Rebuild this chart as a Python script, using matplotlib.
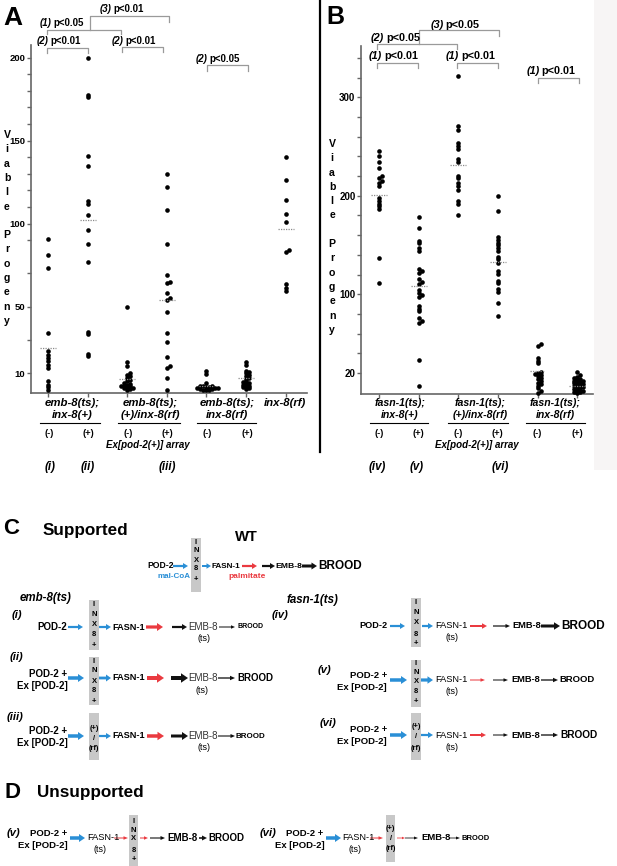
import numpy as np
import matplotlib
matplotlib.use('Agg')
import matplotlib.pyplot as plt
from matplotlib.patches import Rectangle, FancyArrow

plt.rcParams['font.family'] = ['Liberation Sans', 'DejaVu Sans']

# ---------------- data: panel A (emb-8(ts) series) ----------------
a_values = [
    [91, 81, 73, 34, 23, 21, 19, 17, 15, 13, 5, 3, 1.5, 0],
    [200, 177.5, 176, 140.5, 134.5, 113.5, 112, 105.5, 96, 87.5, 77, 35, 33.5, 21.5, 20],
    [50, 16.5, 14, 10, 9, 8, 7, 6, 5, 4, 3.5, 3, 2.5, 2, 2, 1.5, 1, 1, 0.5, 0],
    [130, 122, 108, 88, 69, 65, 64, 58, 55, 54, 47, 34, 29, 19.5, 14, 13, 7, 0],
    [11, 9.5, 4, 2.5, 2, 2, 1.5, 1.5, 1, 1, 1, 0.5, 0.5, 0, 0, 0],
    [16.5, 15, 11.5, 10.5, 10, 9, 8, 7, 6.5, 5, 4.5, 4, 3.5, 3, 2.5, 2, 1.5, 1, 0.5],
    [140, 126.5, 114, 106, 101, 84, 83, 63.5, 61.5, 59.5],
]
a_means = [25, 102, 6.6, 54, 2.2, 6.8, 96.7]
a_yticks = [10, 50, 100, 150, 200]
a_minor = [30, 70, 90, 110, 120, 130, 140, 160, 170, 180, 190]
a_groups = [('emb-8(ts);', 'inx-8(+)'), ('emb-8(ts);', '(+)/inx-8(rf)'), ('emb-8(ts);', 'inx-8(rf)')]
a_last = 'inx-8(rf)'
a_roman = ['(i)', '(ii)', '(iii)']

# ---------------- data: panel B (fasn-1(ts) series) ----------------
b_values = [
    [245, 240, 234, 228, 220, 218, 215, 213, 210, 198, 195, 192, 189.5, 186.5, 136.5, 111],
    [178, 167.5, 154, 151.5, 146.5, 144, 126, 124, 122, 115, 112.5, 110.5, 104, 101.5, 99, 97,
     88, 85.5, 83, 75.5, 73, 71, 33, 7],
    [322, 271, 267, 253.5, 250.5, 247.5, 237.5, 234.5, 220.5, 217.5, 213, 209.5, 206, 195, 191.5, 180.5],
    [200, 184, 158, 155, 152.5, 150, 147, 144, 138, 135.5, 132, 124, 121, 113.5, 111, 105, 102.5, 91.5, 78],
    [49.5, 47.5, 35, 32.5, 30, 21.5, 20.5, 19, 18, 17, 15, 14, 12, 10, 8.5, 7, 4.5, 2, 0],
    [21, 18, 16, 15, 14, 13, 12, 11.5, 11, 10, 9.5, 9, 8, 7.5, 7, 6, 5.5, 5, 4, 3, 2.5, 2, 1, 0.5, 0],
]
b_means = [200.7, 108.6, 231.5, 132.7, 22, 6.8]
b_yticks = [20, 100, 200, 300]
b_minor = [40, 60, 80, 120, 140, 160, 180, 220, 240, 260, 280, 320, 340]
b_groups = [('fasn-1(ts);', 'inx-8(+)'), ('fasn-1(ts);', '(+)/inx-8(rf)'), ('fasn-1(ts);', 'inx-8(rf)')]
b_roman = ['(iv)', '(v)', '(vi)']

a_sig = [('(2)', 'p<0.01'), ('(1)', 'p<0.05'), ('(3)', 'p<0.01'), ('(2)', 'p<0.01'), ('(2)', 'p<0.05')]
b_sig = [('(1)', 'p<0.01'), ('(2)', 'p<0.05'), ('(3)', 'p<0.05'), ('(1)', 'p<0.01'), ('(1)', 'p<0.01')]

BLUE = '#2a8fd6'
RED = '#ea3a40'
BLK = '#111111'
GRAYBOX = '#c8c8c8'

W, H = 617, 866
fig = plt.figure(figsize=(W / 100, H / 100), dpi=100)


def ax_px(l, t, r, b):
    return fig.add_axes([l / W, 1 - b / H, (r - l) / W, (b - t) / H])


def swarm_offsets(ax, x0, vals, d=2.3, step=3.0):
    pts = ax.transData.transform(np.column_stack([np.full(len(vals), x0), vals]))
    ypx = pts[:, 1]
    order = np.argsort(ypx)
    placed = []
    offs = np.zeros(len(vals))
    for i in order:
        k = 0
        done = False
        while not done:
            cands = [0.0] if k == 0 else [k * step, -k * step]
            for c in cands:
                if all((c - ox) ** 2 + (ypx[i] - oy) ** 2 >= d * d for ox, oy in placed):
                    offs[i] = c
                    placed.append((c, ypx[i]))
                    done = True
                    break
            k += 1
    pxu = ax.transData.transform((1, 0))[0] - ax.transData.transform((0, 0))[0]
    return offs / pxu


def style_axis(ax, n, ylim, xlim, major, minor, lab_size):
    ax.set_xlim(*xlim)
    ax.set_ylim(*ylim)
    for s in ['top', 'right']:
        ax.spines[s].set_visible(False)
    for s in ['left', 'bottom']:
        ax.spines[s].set_color('#666666')
        ax.spines[s].set_linewidth(1.2)
    ax.set_xticks(range(n))
    ax.set_xticklabels([''] * n)
    ax.set_yticks(major)
    ax.set_yticks(minor, minor=True)
    ax.set_yticklabels([str(v) for v in major], fontsize=lab_size, fontweight='bold')
    ax.tick_params(axis='both', which='both', color='#666666', length=3, width=1, pad=1)
    ax.patch.set_alpha(0)


def draw_points(ax, values, means):
    for i, vals in enumerate(values):
        dx = swarm_offsets(ax, i, vals)
        ax.scatter(i + dx, vals, s=11, color='black', linewidths=0, zorder=3, clip_on=False)
        ax.plot([i - 0.2, i + 0.2], [means[i], means[i]], ls=(0, (1, 1)), color='#8a8a8a', lw=0.9, zorder=4)


axA = ax_px(31, 45, 307, 393)
style_axis(axA, 7, (-2, 207.6), (-0.43, 6.54), a_yticks, a_minor, 6.8)
draw_points(axA, a_values, a_means)

axB = ax_px(361, 45.7, 593, 394)
style_axis(axB, 6, (-1.3, 352.3), (-0.455, 5.4), b_yticks, b_minor, 7.0)
draw_points(axB, b_values, b_means)

ov = fig.add_axes([0, 0, 1, 1])
ov.set_xlim(0, W)
ov.set_ylim(H, 0)
ov.axis('off')
ov.add_patch(Rectangle((594, 0), 23, 470, color='#f7f5f5', lw=0, zorder=0))
ov.plot([320, 320], [0, 452], color='black', lw=1.6)


def txt(x, y, s, size, weight='bold', style='normal', color='black', ha='left', va='center'):
    ov.text(x, y, s, fontsize=size, fontweight=weight, fontstyle=style, color=color,
            ha=ha, va=va)


def arr(x0, x1, y, color, shaft, head, hl):
    ov.add_patch(FancyArrow(x0, y, x1 - x0, 0, width=shaft, head_width=head, head_length=hl,
                            length_includes_head=True, color=color, lw=0))


def box(x0, x1, y0, y1, letters, ys, size=5.5):
    ov.add_patch(Rectangle((x0, y0), x1 - x0, y1 - y0, color=GRAYBOX, lw=0))
    for ch, yy in zip(letters, ys):
        txt((x0 + x1) / 2, yy, ch, size, ha='center')


def bracket(x0, x1, y, y0end, y1end):
    ov.plot([x0, x0, x1, x1], [y0end, y, y, y1end], color='#9a9a9a', lw=0.9)


def siglabel(split, base, lab, size):
    num, p = lab
    ov.text(split - 2.0, base, num, fontsize=size, fontweight='bold', fontstyle='italic',
            ha='right', va='baseline')
    ov.text(split, base, p, fontsize=size, fontweight='bold', ha='left', va='baseline')


# ---- panel letters and y labels ----
txt(3, 18, 'A', 19)
txt(326, 17, 'B', 18)
for k, ch in enumerate('Viable Progeny'):
    if ch != ' ':
        txt(7, 135 + 14.3 * k, ch, 7.6, ha='center')
        txt(332, 144 + 14.3 * k, ch, 7.6, ha='center')

# ---- significance brackets A ----
bracket(47, 88, 47.7, 52.5, 52.5); siglabel(50.5, 43.5, a_sig[0], 7)
bracket(47, 121, 30, 34, 34); siglabel(53.5, 26, a_sig[1], 7)
bracket(90, 169, 16, 30, 21.7); siglabel(113.5, 12.5, a_sig[2], 7)
bracket(122, 163, 47, 52, 52); siglabel(125.5, 43.5, a_sig[3], 7)
bracket(207, 248, 65, 70.5, 70.5); siglabel(209.5, 62, a_sig[4], 7)

# ---- significance brackets B ----
bracket(376.7, 418, 62.7, 67.5, 67.5); siglabel(384, 59, b_sig[0], 7.8)
bracket(376.7, 456.7, 44, 48.5, 48.5); siglabel(386, 41, b_sig[1], 7.8)
bracket(419, 499.3, 30, 44, 35.5); siglabel(445.5, 27.5, b_sig[2], 7.8)
bracket(456.7, 498.3, 62.7, 67.5, 67.5); siglabel(461, 59, b_sig[3], 7.8)
bracket(537.7, 579.3, 77.7, 82.5, 82.5); siglabel(541.5, 73.8, b_sig[4], 7.8)

# ---- x group labels A ----
for (l1, l2), cx, (u0, u1) in zip(a_groups, [72, 150, 227], [(40, 100), (118, 180), (197, 256)]):
    txt(cx, 403, l1, 8.2, style='italic', ha='center')
    txt(cx, 415, l2, 8.2, style='italic', ha='center')
    ov.plot([u0, u1], [422.7, 422.7], color='black', lw=0.8)
txt(285, 403, a_last, 8.2, style='italic', ha='center')
for i in range(6):
    txt(49 + 39.6 * i, 433, '(-)' if i % 2 == 0 else '(+)', 6.8, ha='center')
txt(148, 444.5, 'Ex[pod-2(+)] array', 7, style='italic', ha='center')
for r, cx in zip(a_roman, [50, 88, 167]):
    txt(cx, 467, r, 8.3, style='italic', ha='center')

# ---- x group labels B ----
for (l1, l2), cx, (u0, u1) in zip(b_groups, [400, 480, 555], [(370, 428), (448, 508), (526, 585)]):
    txt(cx, 403, l1, 7.6, style='italic', ha='center')
    txt(cx, 415, l2, 7.6, style='italic', ha='center')
    ov.plot([u0, u1], [422.7, 422.7], color='black', lw=0.8)
for i in range(6):
    txt(379 + 39.6 * i, 433, '(-)' if i % 2 == 0 else '(+)', 6.8, ha='center')
txt(477, 444.5, 'Ex[pod-2(+)] array', 7, style='italic', ha='center')
for r, cx in zip(b_roman, [377, 417, 500]):
    txt(cx, 467, r, 8.3, style='italic', ha='center')

# ================= panel C =================
INX = ['I', 'N', 'X', '8', '+']
RF = ['(+)', '/', '(rf)']
txt(3, 528, 'C', 16)
txt(43, 531, 'Supported', 12.3)
txt(246.5, 537, 'WT', 10.6, ha='center')

# WT
y = 566
txt(147, y, 'POD-2', 6.2)
arr(173, 188, y, BLUE, 2.2, 6, 5)
txt(157, 576.5, 'mal-CoA', 5.8, color=BLUE)
box(191, 201, 538, 592, INX, [542, 551, 560, 569, 580])
arr(202, 211, y, BLUE, 2, 5.5, 4.5)
txt(212, y, 'FASN-1', 5.9)
arr(242, 257, y, RED, 2.2, 6, 5)
txt(228, 576.5, 'palmitate', 6, color=RED)
arr(262, 275, y, BLK, 2.2, 6, 5)
txt(275, y, 'EMB-8', 6.1)
arr(302, 317, y, BLK, 3, 7, 5.5)
txt(318, y, 'BROOD', 8.5)

# emb-8(ts) column
txt(20, 598, 'emb-8(ts)', 8.3, style='italic')
txt(12, 615, '(i)', 8, style='italic')
y = 627
txt(67, y, 'POD-2', 7, ha='right')
arr(68, 83, y, BLUE, 2.2, 6, 5)
box(89, 99, 600, 650, INX, [604, 614, 624, 635, 645])
arr(99, 111, y, BLUE, 2.2, 6, 5)
txt(112, y, 'FASN-1', 6.6)
arr(146, 163, y, RED, 3.2, 8, 6)
arr(172, 187, y, BLK, 2.2, 6, 5)
txt(188, y, 'EMB-8', 7, weight='normal', color='#333333')
txt(204, 638.5, '(ts)', 6.5, weight='normal', ha='center')
arr(219, 235, y, BLK, 1, 3.5, 4)
txt(237, y, 'BROOD', 5)

txt(10, 657, '(ii)', 8, style='italic')
y = 678
txt(67, 674, 'POD-2 +', 7, ha='right')
txt(68, 686, 'Ex [POD-2]', 7, ha='right')
arr(68, 84, y, BLUE, 3.5, 8, 6)
box(89, 99, 657, 705, INX, [661.5, 671, 681.5, 691, 701])
arr(99, 111, y, BLUE, 2.8, 7, 5)
txt(112, y, 'FASN-1', 6.6)
arr(147, 164, y, RED, 4, 9.5, 7)
arr(171, 188, y, BLK, 4, 9.5, 7)
txt(188, y, 'EMB-8', 7, weight='normal', color='#333333')
txt(202, 690.5, '(ts)', 6.5, weight='normal', ha='center')
arr(218, 235, y, BLK, 1.3, 4.5, 5)
txt(237, y, 'BROOD', 7)

txt(7, 717, '(iii)', 8, style='italic')
y = 736
txt(67, 731, 'POD-2 +', 7, ha='right')
txt(68, 743, 'Ex [POD-2]', 7, ha='right')
arr(68, 84, y, BLUE, 3.5, 8, 6)
box(89, 99, 713, 760, RF, [728, 738, 748], 5.3)
arr(99, 111, y, BLUE, 2.2, 6, 5)
txt(112, y, 'FASN-1', 6.6)
arr(147, 164, y, RED, 3.5, 8.5, 6.5)
arr(171, 188, y, BLK, 3, 8, 6)
txt(188, y, 'EMB-8', 7, weight='normal', color='#333333')
txt(204, 747.5, '(ts)', 6.5, weight='normal', ha='center')
arr(218, 235, y, BLK, 1.1, 4, 4.5)
txt(236, y, 'BROOD', 5.8)

# fasn-1(ts) column
txt(287, 600, 'fasn-1(ts)', 8.3, style='italic')
txt(272, 615, '(iv)', 8, style='italic')
y = 626
txt(388, y, 'POD-2', 6.6, ha='right')
arr(390, 405, y, BLUE, 2.2, 6, 5)
box(411, 421, 598, 647, INX, [603, 613, 623, 634, 644])
arr(422, 433, y, BLUE, 2.2, 6, 5)
txt(435, y, 'FASN-1', 6.7, weight='normal')
txt(452, 637.5, '(ts)', 6.5, weight='normal', ha='center')
arr(470, 487, y, RED, 2, 5.5, 5)
arr(493, 510, y, BLK, 1.2, 4, 4.5)
txt(512, y, 'EMB-8', 6.7)
arr(541, 560, y, BLK, 3, 7.5, 6)
txt(561, y, 'BROOD', 8.5)

txt(318, 670, '(v)', 8, style='italic')
y = 680
txt(387, 675, 'POD-2 +', 6.8, ha='right')
txt(387, 687, 'Ex [POD-2]', 6.8, ha='right')
arr(390, 407, y, BLUE, 3.5, 8, 6)
box(411, 421, 660, 707, INX, [663.5, 672.5, 681.5, 691.5, 701.5])
arr(421, 433, y, BLUE, 3.2, 7.5, 5.5)
txt(435, y, 'FASN-1', 6.7, weight='normal')
txt(452, 692, '(ts)', 6.5, weight='normal', ha='center')
arr(470, 485, y, RED, 1, 3.5, 4.5)
arr(493, 508, y, BLK, 1, 3.5, 4.5)
txt(511, y, 'EMB-8', 6.7)
arr(541, 558, y, BLK, 1.3, 4.5, 5)
txt(559, y, 'BROOD', 6.8)

txt(320, 723, '(vi)', 8, style='italic')
y = 735
txt(387, 730, 'POD-2 +', 6.8, ha='right')
txt(387, 742, 'Ex [POD-2]', 6.8, ha='right')
arr(390, 407, y, BLUE, 3.5, 8, 6)
box(411, 421, 713, 760, RF, [727, 737, 748], 5.3)
arr(421, 433, y, BLUE, 2.2, 6, 5)
txt(435, y, 'FASN-1', 6.7, weight='normal')
txt(452, 747, '(ts)', 6.5, weight='normal', ha='center')
arr(470, 486, y, RED, 2, 5, 5)
arr(493, 508, y, BLK, 1, 3.5, 4.5)
txt(511, y, 'EMB-8', 6.7)
arr(541, 558, y, BLK, 1.3, 4.5, 5)
txt(560, y, 'BROOD', 7.3)

# ================= panel D =================
txt(4, 792, 'D', 16)
txt(37, 793, 'Unsupported', 12.3)
y = 838
txt(7, 833, '(v)', 8, style='italic')
txt(67, 833, 'POD-2 +', 6.8, ha='right')
txt(68, 845, 'Ex [POD-2]', 6.8, ha='right')
arr(70, 85, y, BLUE, 3.5, 8, 6)
txt(87, y, 'FASN-1', 6.7, weight='normal')
txt(100, 850, '(ts)', 6.5, weight='normal', ha='center')
arr(114, 128, y, RED, 1, 3.5, 4.5)
box(129, 138, 815, 866, INX, [821.5, 830, 838.5, 850, 860])
arr(140, 148, y, RED, 1, 3.5, 4)
arr(150, 165, y, BLK, 1.1, 4, 4.5)
txt(167, y, 'EMB-8', 7)
arr(199, 207, y, BLK, 1.6, 5, 5)
txt(208, y, 'BROOD', 7)

txt(260, 833, '(vi)', 8, style='italic')
txt(323, 833, 'POD-2 +', 6.8, ha='right')
txt(325, 845, 'Ex [POD-2]', 6.8, ha='right')
arr(326, 341, y, BLUE, 3.5, 8, 6)
txt(342, y, 'FASN-1', 6.7, weight='normal')
txt(355, 850, '(ts)', 6.5, weight='normal', ha='center')
arr(370, 383, y, RED, 1, 3.5, 4.5)
box(386, 395, 815, 862, RF, [828, 838, 849], 5.3)
arr(397, 405, y, RED, 0.8, 2.5, 3)
arr(405, 418, y, BLK, 0.8, 3, 4)
txt(421, y, 'EMB-8', 6.8)
arr(450, 460, y, BLK, 0.8, 3, 4)
txt(462, y, 'BROOD', 5.5)

fig.savefig('out.png', dpi=100)
